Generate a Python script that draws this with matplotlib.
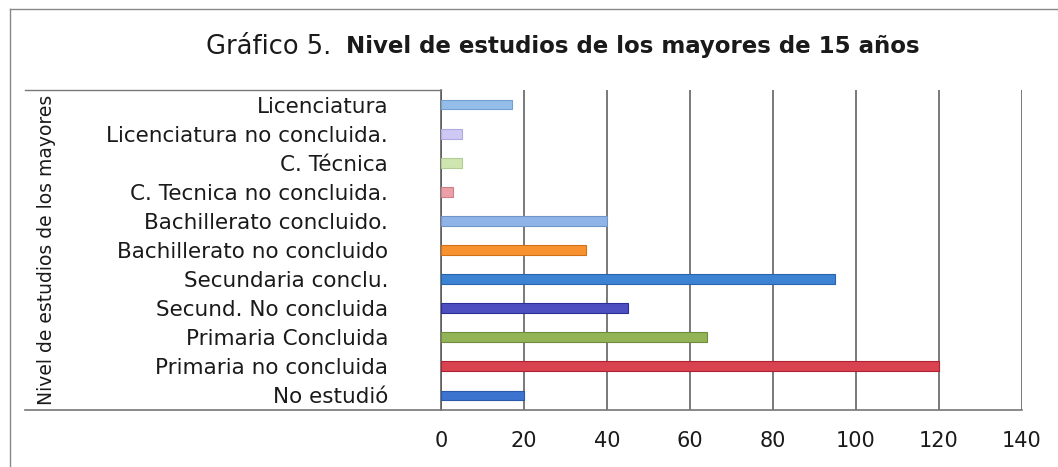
import matplotlib
matplotlib.use("Agg")
import matplotlib.pyplot as plt
from matplotlib.lines import Line2D

# categories listed bottom -> top
categories = [
    "No estudió",
    "Primaria no concluida",
    "Primaria Concluida",
    "Secund. No concluida",
    "Secundaria conclu.",
    "Bachillerato no concluido",
    "Bachillerato concluido.",
    "C. Tecnica no concluida.",
    "C. Técnica",
    "Licenciatura no concluida.",
    "Licenciatura",
]
values = [20, 120, 64, 45, 95, 35, 40, 3, 5, 5, 17]
bar_colors = [
    "#3c74d0", "#d9434f", "#92b457", "#4d4fc0", "#3d83d3", "#f7922f",
    "#8fb5e8", "#eba0a8", "#cfe6b0", "#cdc8f4", "#94bdea",
]
edge_colors = [
    "#2a58a8", "#b02035", "#6f8c3a", "#2d2f98", "#2765ad", "#d27018",
    "#6f95c8", "#d07f88", "#b3cc94", "#b0aade", "#74a0d0",
]
x_ticks = [0, 20, 40, 60, 80, 100, 120, 140]

plt.rcParams["font.family"] = ["DejaVu Sans"]

W, H = 1058, 467
fig = plt.figure(figsize=(W / 100, H / 100), dpi=100)
ax = fig.add_axes([441 / W, 1 - 410 / H, (1022 - 441) / W, (410 - 90) / H])

ypos = list(range(len(categories)))
ax.barh(ypos, values, height=0.34, color=bar_colors, edgecolor=edge_colors,
        linewidth=0.8, zorder=3)

ax.set_xlim(0, 140)
ax.set_ylim(-0.5, len(categories) - 0.5)
ax.set_xticks(x_ticks)
ax.set_xticklabels([str(t) for t in x_ticks])
ax.set_yticks(ypos)
ax.set_yticklabels(categories)
ax.tick_params(axis="y", length=0, pad=38, labelsize=15.5, colors="#1a1a1a")
ax.tick_params(axis="x", length=0, pad=15, labelsize=15, colors="#1a1a1a")
ax.grid(axis="x", color="#555555", linewidth=1.1, zorder=0)
for side in ["top", "right", "bottom"]:
    ax.spines[side].set_visible(False)
ax.spines["left"].set_color("#555555")
ax.spines["left"].set_linewidth(1.1)

ax.set_ylabel("Nivel de estudios de los mayores", fontsize=13.5, color="#1a1a1a")
ax.yaxis.set_label_coords(56 / W, 1 - 250 / H, transform=fig.transFigure)

# table-like frame lines outside the plot area
fig.add_artist(Line2D([25 / W, 441 / W], [1 - 90 / H, 1 - 90 / H],
                      color="#777777", linewidth=1.0))
fig.add_artist(Line2D([25 / W, 1022 / W], [1 - 410 / H, 1 - 410 / H],
                      color="#777777", linewidth=1.2))
# outer chart border (right and bottom edges fall outside the picture)
fig.add_artist(Line2D([10 / W, 1.0], [1 - 9 / H, 1 - 9 / H],
                      color="#888888", linewidth=1.0))
fig.add_artist(Line2D([10 / W, 10 / W], [0.0, 1 - 9 / H],
                      color="#888888", linewidth=1.0))

fig.text(331 / W, 1 - 47 / H, "Gráfico 5.", fontsize=18.5, ha="right",
         va="center", color="#1a1a1a")
fig.text(346 / W, 1 - 47 / H, "Nivel de estudios de los mayores de 15 años",
         fontsize=16.5, fontweight="bold", ha="left", va="center",
         color="#1a1a1a")

fig.savefig("out.png", dpi=100)
